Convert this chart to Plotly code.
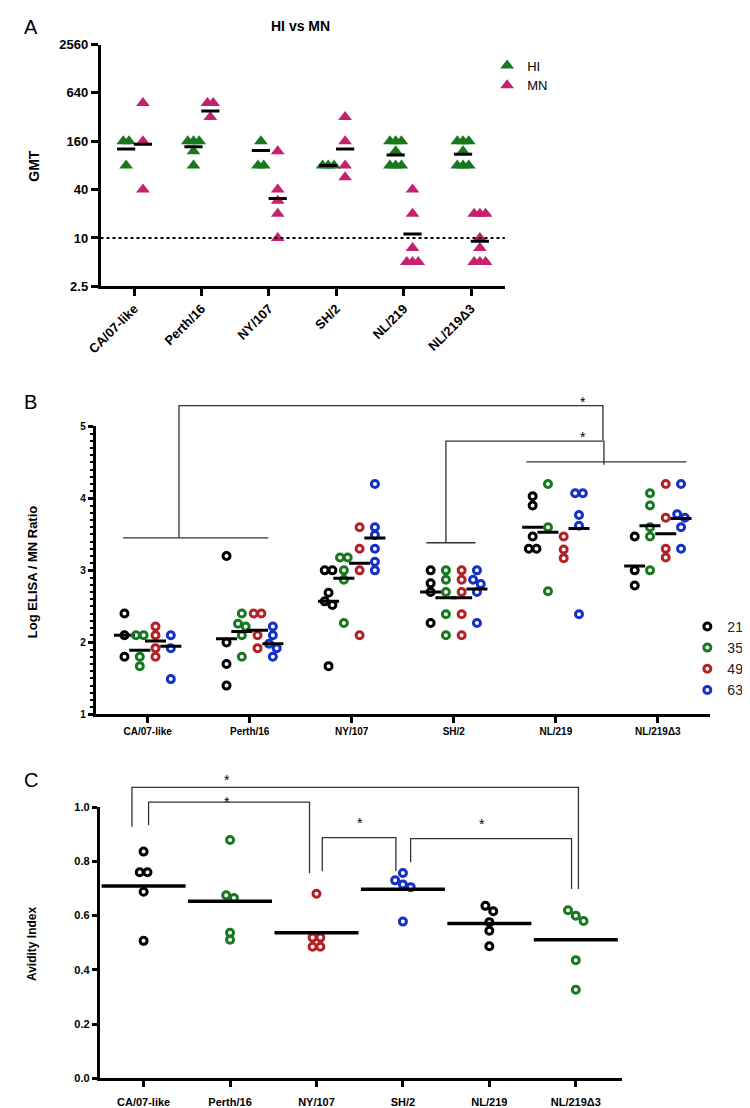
import math
import plotly.graph_objects as go

W, H = 750, 1108

strains = ["CA/07-like", "Perth/16", "NY/107", "SH/2", "NL/219", "NL/219Δ3"]

# panel A - HI and MN titers per strain, plus the GMT bars
hi_titers = [[160, 160, 80], [160, 160, 160, 120, 80], [160, 80, 80], [80, 80, 80],
             [160, 160, 160, 120, 80, 80, 80], [160, 160, 160, 120, 80, 80, 80]]
hi_gmt = [128, 137, 123, 80, 108, 110]
mn_titers = [[480, 160, 40], [480, 480, 320], [120, 40, 29, 20, 10], [320, 160, 80, 57],
             [40, 20, 7.5, 5, 5, 5], [20, 20, 20, 10, 7.5, 5, 5, 5]]
mn_gmt = [147, 382, 31, 128, 11.2, 9.1]
gmt_ticks = [2.5, 10, 40, 160, 640, 2560]

# panel B - log ELISA / MN ratio by day
days = ["21", "35", "49", "63"]
ratio_d21 = [[2.4, 2.1, 1.8], [3.2, 2.0, 1.7, 1.4], [3.0, 3.0, 2.69, 2.57, 2.52, 1.67],
             [3.0, 2.82, 2.7, 2.27], [4.03, 3.9, 3.47, 3.3, 3.3], [3.47, 3.0, 2.79]]
ratio_d35 = [[2.1, 2.1, 1.8, 1.67], [2.4, 2.26, 2.22, 2.1, 1.8], [3.18, 3.18, 3.0, 2.87, 2.27],
             [3.0, 2.87, 2.7, 2.39, 2.1], [4.2, 3.6, 2.71], [4.07, 3.9, 3.6, 3.47, 3.0]]
ratio_d49 = [[2.22, 2.1, 1.92, 1.8], [2.4, 2.4, 2.1, 1.92], [3.6, 3.3, 3.0, 2.1],
             [3.0, 2.87, 2.7, 2.39, 2.1], [3.47, 3.29, 3.17], [4.2, 3.73, 3.3, 3.18]]
ratio_d63 = [[2.1, 1.92, 1.49], [2.22, 2.1, 1.98, 1.92, 1.8], [4.2, 3.6, 3.49, 3.3, 3.12, 3.0],
             [3.0, 2.87, 2.81, 2.7, 2.27], [4.07, 4.07, 3.77, 3.62, 2.39], [4.2, 3.78, 3.73, 3.6, 3.3]]
mean_d21 = [2.1, 2.05, 2.57, 2.70, 3.60, 3.06]
mean_d35 = [1.89, 2.15, 2.89, 2.62, 3.53, 3.62]
mean_d49 = [2.02, 2.17, 3.10, 2.62, None, 3.51]
mean_d63 = [1.945, 1.98, 3.45, 2.74, 3.58, 3.72]

# panel C - avidity index
avidity = [[0.836, 0.76, 0.76, 0.688, 0.507], [0.879, 0.675, 0.665, 0.537, 0.511],
           [0.681, 0.519, 0.519, 0.485, 0.485], [0.757, 0.73, 0.715, 0.705, 0.578],
           [0.636, 0.616, 0.576, 0.544, 0.487], [0.62, 0.60, 0.58, 0.436, 0.327]]
avidity_mean = [0.709, 0.653, 0.537, 0.697, 0.571, 0.511]

GREEN = "#17781f"
PINK = "#c4216e"
BLACK = "#000000"
RED = "#b52025"
BLUE = "#1530c8"
day_colors = [BLACK, GREEN, RED, BLUE]
avid_colors = [BLACK, GREEN, RED, BLUE, BLACK, GREEN]
FONT = "Liberation Sans"


def px(x):
    return x / W


def py(y):
    return 1 - y / H


def swarm(vals, thresh, step):
    # points that sit on (nearly) the same value are spread sideways, centred
    order = sorted(range(len(vals)), key=lambda i: -vals[i])
    rows = []
    for i in order:
        if rows and abs(vals[rows[-1][-1]] - vals[i]) < thresh:
            rows[-1].append(i)
        else:
            rows.append([i])
    offs = [0.0] * len(vals)
    for r in rows:
        for k, i in enumerate(r):
            offs[i] = (k - (len(r) - 1) / 2) * step
    return offs


fig = go.Figure()

# ---- panel A
for name, data, gm, shift, col in [("HI", hi_titers, hi_gmt, -0.12, GREEN),
                                   ("MN", mn_titers, mn_gmt, 0.13, PINK)]:
    xs, ys = [], []
    for i, vals in enumerate(data):
        offs = swarm([math.log10(v) for v in vals], 0.05, 0.085)
        xs += [i + shift + o for o in offs]
        ys += vals
    fig.add_trace(go.Scatter(x=xs, y=ys, mode="markers", name=name, legend="legend",
                             marker=dict(symbol="triangle-up", size=12, color=col,
                                         line=dict(width=0)),
                             xaxis="x", yaxis="y"))
    fig.add_trace(go.Scatter(x=[i + shift for i in range(len(gm))], y=gm, mode="markers",
                             showlegend=False, xaxis="x", yaxis="y",
                             marker=dict(symbol="line-ew", size=13,
                                         line=dict(width=3, color=BLACK))))

# ---- panel B
day_data = [ratio_d21, ratio_d35, ratio_d49, ratio_d63]
day_means = [mean_d21, mean_d35, mean_d49, mean_d63]
group_shift = [-0.227, -0.077, 0.077, 0.227]
for d in range(4):
    xs, ys = [], []
    for i, vals in enumerate(day_data[d]):
        offs = swarm(vals, 0.07, 0.075)
        xs += [i + group_shift[d] + o for o in offs]
        ys += vals
    fig.add_trace(go.Scatter(x=xs, y=ys, mode="markers", name=days[d], legend="legend2",
                             marker=dict(symbol="circle-open", size=7, color=day_colors[d],
                                         line=dict(width=3, color=day_colors[d])),
                             xaxis="x2", yaxis="y2"))
    fig.add_trace(go.Scatter(x=[i + group_shift[d] for i in range(6)], y=day_means[d],
                             mode="markers", showlegend=False, xaxis="x2", yaxis="y2",
                             marker=dict(symbol="line-ew", size=15,
                                         line=dict(width=3, color=BLACK))))

# ---- panel C
for i, vals in enumerate(avidity):
    offs = swarm(vals, 0.025, 0.09)
    fig.add_trace(go.Scatter(x=[i + o for o in offs], y=vals, mode="markers",
                             showlegend=False, xaxis="x3", yaxis="y3",
                             marker=dict(symbol="circle-open", size=7, color=avid_colors[i],
                                         line=dict(width=3, color=avid_colors[i]))))
fig.add_trace(go.Scatter(x=list(range(6)), y=avidity_mean, mode="markers", showlegend=False,
                         xaxis="x3", yaxis="y3",
                         marker=dict(symbol="line-ew", size=60,
                                     line=dict(width=3.5, color=BLACK))))

axis_common = dict(showline=True, linecolor=BLACK, ticks="outside", tickcolor=BLACK,
                   showgrid=False, zeroline=False, mirror=False)

fig.update_layout(
    width=W, height=H, margin=dict(l=0, r=0, t=0, b=0),
    paper_bgcolor="white", plot_bgcolor="white",
    font=dict(family=FONT, color=BLACK),
    xaxis=dict(domain=[px(80), px(492)], anchor="y", range=[-0.5, 5.5],
               tickvals=list(range(6)), ticktext=strains, tickangle=-45,
               linewidth=2.5, tickwidth=2.5, ticklen=7,
               tickfont=dict(size=13, weight="bold"), **axis_common),
    yaxis=dict(domain=[py(275), py(30)], anchor="x", type="log",
               range=[math.log10(2.5), math.log10(2560)],
               tickvals=gmt_ticks, ticktext=[str(t) for t in gmt_ticks],
               linewidth=2.5, tickwidth=2.5, ticklen=7,
               tickfont=dict(size=13, weight="bold"), **axis_common),
    xaxis2=dict(domain=[px(75), px(701)], anchor="y2", range=[-0.51, 5.51],
                tickvals=list(range(6)), ticktext=strains,
                linewidth=2.5, tickwidth=2.5, ticklen=6,
                tickfont=dict(size=10, weight="bold"), **axis_common),
    yaxis2=dict(domain=[py(709), py(417)], anchor="x2", range=[1, 5], dtick=1,
                linewidth=2.5, tickwidth=2.5, ticklen=5,
                minor=dict(dtick=0.1, ticklen=3, tickwidth=1.5, tickcolor=BLACK, ticks="outside"),
                tickfont=dict(size=10, weight="bold"), **axis_common),
    xaxis3=dict(domain=[px(79), px(611)], anchor="y3", range=[-0.51, 5.53],
                tickvals=list(range(6)), ticktext=strains,
                linewidth=2.5, tickwidth=2.5, ticklen=6, ticklabelstandoff=6,
                tickfont=dict(size=11, weight="bold"), **axis_common),
    yaxis3=dict(domain=[py(1078), py(803)], anchor="x3", range=[0, 1], dtick=0.2,
                tickformat=".1f", linewidth=2.5, tickwidth=2.5, ticklen=5,
                tickfont=dict(size=11, weight="bold"), **axis_common),
    legend=dict(x=px(474), y=py(36), xanchor="left", yanchor="top",
                font=dict(size=13), bgcolor="rgba(0,0,0,0)", tracegroupgap=0),
    legend2=dict(x=px(678), y=py(604), xanchor="left", yanchor="top",
                 font=dict(size=14, color="#222"), bgcolor="rgba(0,0,0,0)"),
    showlegend=True,
)

shapes = [dict(type="line", xref="x domain", yref="y", x0=0, x1=1, y0=10, y1=10,
               line=dict(color=BLACK, width=2, dash="dot"))]


def bracket(points):
    path = "M " + " L ".join(f"{px(a)},{py(b)}" for a, b in points)
    return dict(type="path", xref="paper", yref="paper", path=path,
                line=dict(color="#333", width=1.3))


# panel B comparison brackets
shapes += [
    bracket([(103, 530), (251, 530)]),
    bracket([(160, 530), (160, 396), (592, 396), (592, 431)]),
    bracket([(412, 535), (462, 535)]),
    bracket([(432, 535), (432, 432), (593, 432), (593, 456)]),
    bracket([(514, 453), (677, 453)]),
]
# panel C comparison brackets
shapes += [
    bracket([(112, 823), (112, 783), (567, 783), (567, 886)]),
    bracket([(129, 821), (129, 798), (293, 798), (293, 870)]),
    bracket([(306, 868), (306, 834), (381, 834), (381, 868)]),
    bracket([(396, 859), (396, 835), (560, 835), (560, 886)]),
]
fig.update_layout(shapes=shapes)

ann = []


def text(x, y, s, size=12, bold=False, angle=0, color=BLACK):
    ann.append(dict(x=px(x), y=py(y), xref="paper", yref="paper", text=s, showarrow=False,
                    textangle=angle, xanchor="center", yanchor="middle",
                    font=dict(size=size, color=color, weight="bold" if bold else "normal")))


text(9, 12, "A", size=20)
text(9, 392, "B", size=20)
text(9, 776, "C", size=20)
text(284, 11, "HI vs MN", size=14, bold=True)
text(12, 153, "GMT", size=14, bold=True, angle=-90)
text(11, 565, "Log ELISA / MN Ratio", size=13, bold=True, angle=-90)
text(10, 941, "Avidity Index", size=12, bold=True, angle=-90)
for x, y in [(572, 392), (572, 428), (209, 776), (209, 798), (344, 819), (469, 820)]:
    text(x, y, "*", size=14)
fig.update_layout(annotations=ann)

fig.write_html("out.html")
